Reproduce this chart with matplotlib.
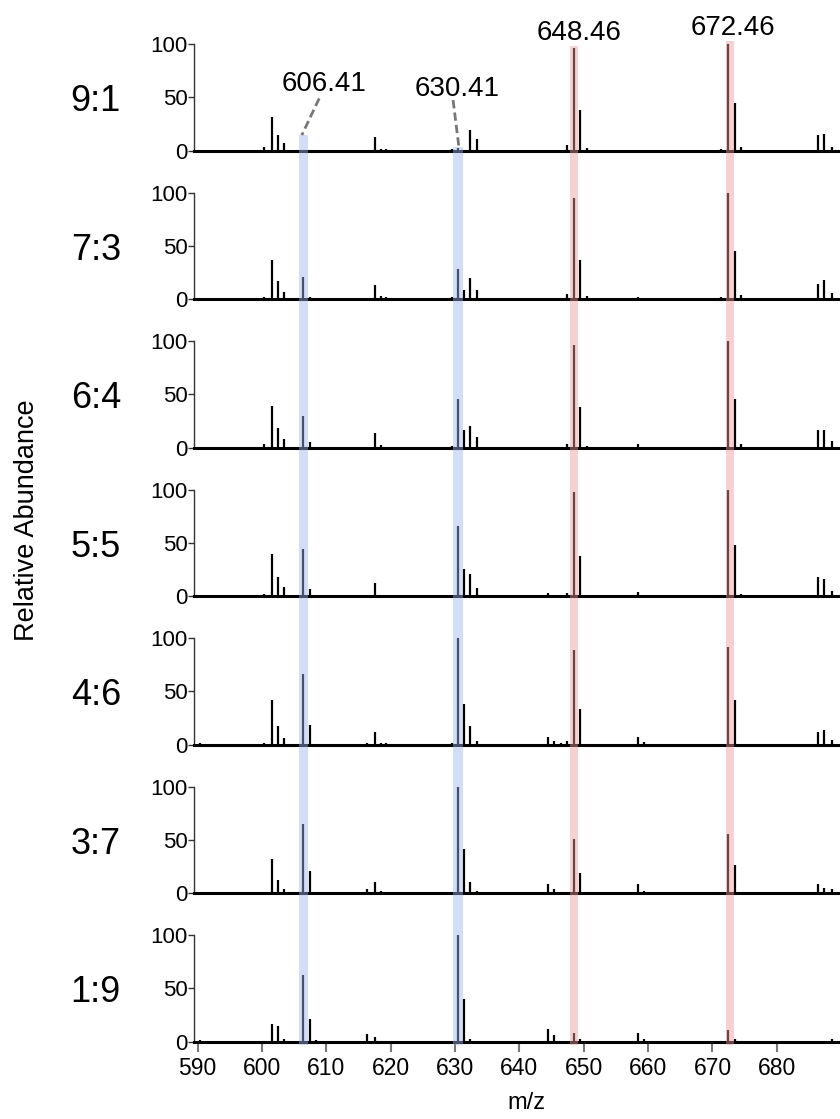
import matplotlib
matplotlib.use("Agg")
from matplotlib import pyplot as plt
from matplotlib.patches import Rectangle
from matplotlib.transforms import blended_transform_factory

plt.rcParams['font.family'] = ['Liberation Sans', 'DejaVu Sans']

# peak positions shared by all spectra
mz = [590.4, 600.4, 601.5, 602.45, 603.45, 606.4, 607.4, 608.4, 616.4, 617.5,
      618.5, 619.3, 629.6, 630.4, 631.4, 632.4, 633.4, 644.4, 645.4, 646.4,
      647.4, 648.45, 649.45, 650.45, 658.4, 659.4, 671.4, 672.45, 673.45, 674.45,
      686.4, 687.4, 688.6]

ratios = ["9:1", "7:3", "6:4", "5:5", "4:6", "3:7", "1:9"]

ab_91 = [0, 3.4, 32, 14.7, 7.5, 1, 0, 0, 0, 13, 2, 1.5, 2, 3, 0, 19.7, 11, 0, 0, 0,
         5.6, 96, 38, 2.8, 0, 0, 1.5, 100, 45, 3.7, 14.7, 15.6, 3.7]
ab_73 = [0, 1.9, 37, 17, 6.9, 21, 1.6, 0, 0, 13, 2.8, 1.9, 1.9, 28, 8.8, 20, 9, 0, 0, 0,
         5, 94.7, 37, 2.8, 2.5, 0, 1.6, 100, 45, 3.7, 14, 18, 5.6]
ab_64 = [0, 3.4, 38.8, 18.8, 8.4, 29.4, 5.6, 0, 0, 13.4, 2.2, 0, 1.6, 46, 16.6, 20.6, 9.7, 0, 0, 0,
         3.4, 96, 38.4, 1.6, 3.4, 0, 0, 100, 46, 3.7, 16.9, 16.9, 6.6]
ab_55 = [1.2, 2.2, 39.4, 18, 8.4, 44.4, 7.2, 0, 1.2, 12.5, 1.2, 0, 0.9, 66, 25.6, 21, 7.5, 3.1, 1.2, 0,
         3.1, 97.8, 37.8, 0.9, 4.4, 0, 0, 99.7, 47.8, 2.2, 17.8, 16.6, 5.3]
ab_46 = [1.9, 1.9, 41.8, 17.3, 6.3, 66.7, 18.2, 0, 1.9, 12, 1.3, 1.3, 1.3, 100, 38.4, 17.3, 3.1, 7.2, 3.1, 1.6,
         3.1, 89, 33.3, 0, 7.2, 2.2, 0, 91.2, 41.8, 0, 12, 14, 4]
ab_37 = [1.2, 1.2, 31.9, 12.5, 4.4, 65, 20.6, 0, 4.4, 10.6, 2.2, 0, 0, 100, 41.6, 10.6, 2.5, 8.4, 4.4, 0,
         0, 50.6, 18.8, 0, 8.4, 2.5, 0, 55.6, 26.6, 0, 8.4, 5.3, 4.4]
ab_19 = [1.2, 0, 16.6, 14.4, 2.2, 62.8, 21.3, 1.2, 7.2, 4.7, 0, 0, 0, 100, 40, 2.5, 0, 12, 6.3, 0,
         0, 8.5, 2.2, 0, 8.5, 2.5, 0, 11.3, 2.2, 0, 0, 0, 2.2]
spectra = [ab_91, ab_73, ab_64, ab_55, ab_46, ab_37, ab_19]

# highlighted m/z windows
blue_bands = [(605.7, 607.2), (629.7, 631.2)]
red_bands = [(647.8, 649.1), (672.1, 673.4)]
band_tops = [14.6, 3.8, 98, 103]   # top of each band, in top-panel units

labels = ["606.41", "630.41", "648.46", "672.46"]
label_xy = [(609.6, 63), (630.4, 58), (649.2, 110.7), (673.2, 114.8)]
leaders = [((608.9, 49), (606.2, 14.6)), ((629.7, 47.5), (630.6, 3.8))]

W, H = 840, 1119
fig = plt.figure(figsize=(W / 100, H / 100), dpi=100)

left_px, right_px = 194.3, 838
base0, step, ax_h = 150.7, 148.5, 106.6
axes = []
for i, (name, ab) in enumerate(zip(ratios, spectra)):
    base = base0 + i * step
    ax = fig.add_axes([left_px / W, 1 - base / H, (right_px - left_px) / W, ax_h / H])
    ax.vlines(mz, 0, ab, color="black", lw=1.6)
    ax.set_xlim(589.5, 689.5)
    ax.set_ylim(0, 100)
    for s in ("top", "right"):
        ax.spines[s].set_visible(False)
    ax.spines["left"].set_bounds(0, 100)
    ax.spines["left"].set_linewidth(1)
    ax.spines["left"].set_color("#333333")
    ax.spines["bottom"].set_linewidth(2.2)
    ax.spines["bottom"].set_color("black")
    ax.set_yticks([0, 50, 100])
    ax.tick_params(axis="y", length=4, width=1, color="#333333", labelsize=16, pad=1)
    if i < len(ratios) - 1:
        ax.set_xticks([])
    else:
        ax.set_xticks(range(590, 690, 10))
        ax.tick_params(axis="x", length=7, width=1.5, color="#777777", labelsize=16.5, pad=4)
    ax.text(-0.153, 46, name, transform=ax.get_yaxis_transform(), fontsize=26,
            ha="center", va="center")
    axes.append(ax)


def yfrac(panel, val):
    base = base0 + panel * step
    return 1 - (base - val / 100 * ax_h) / H


trans = blended_transform_factory(axes[-1].transData, fig.transFigure)
for (x0, x1), top, col in zip(blue_bands + red_bands, band_tops,
                              ["#9db5ee", "#9db5ee", "#ee9a9a", "#ee9a9a"]):
    y0 = yfrac(6, -3)
    y1 = yfrac(0, top)
    fig.add_artist(Rectangle((x0, y0), x1 - x0, y1 - y0, transform=trans,
                             facecolor=col, edgecolor="none", alpha=0.45, zorder=5))

top_ax = axes[0]
for txt, (x, y) in zip(labels, label_xy):
    top_ax.text(x, y, txt, fontsize=20, ha="center", va="center", clip_on=False)
for (p0, p1) in leaders:
    top_ax.plot([p0[0], p1[0]], [p0[1], p1[1]], ls=(0, (3, 1.5)), color="#777777",
                lw=2, clip_on=False)

fig.text(27 / W, 1 - 520 / H, "Relative Abundance", rotation=90, fontsize=19.5,
         ha="center", va="center")
fig.text(526 / W, 1 - 1103 / H, "m/z", fontsize=17, ha="center", va="center")

fig.savefig("out.png", dpi=100)
